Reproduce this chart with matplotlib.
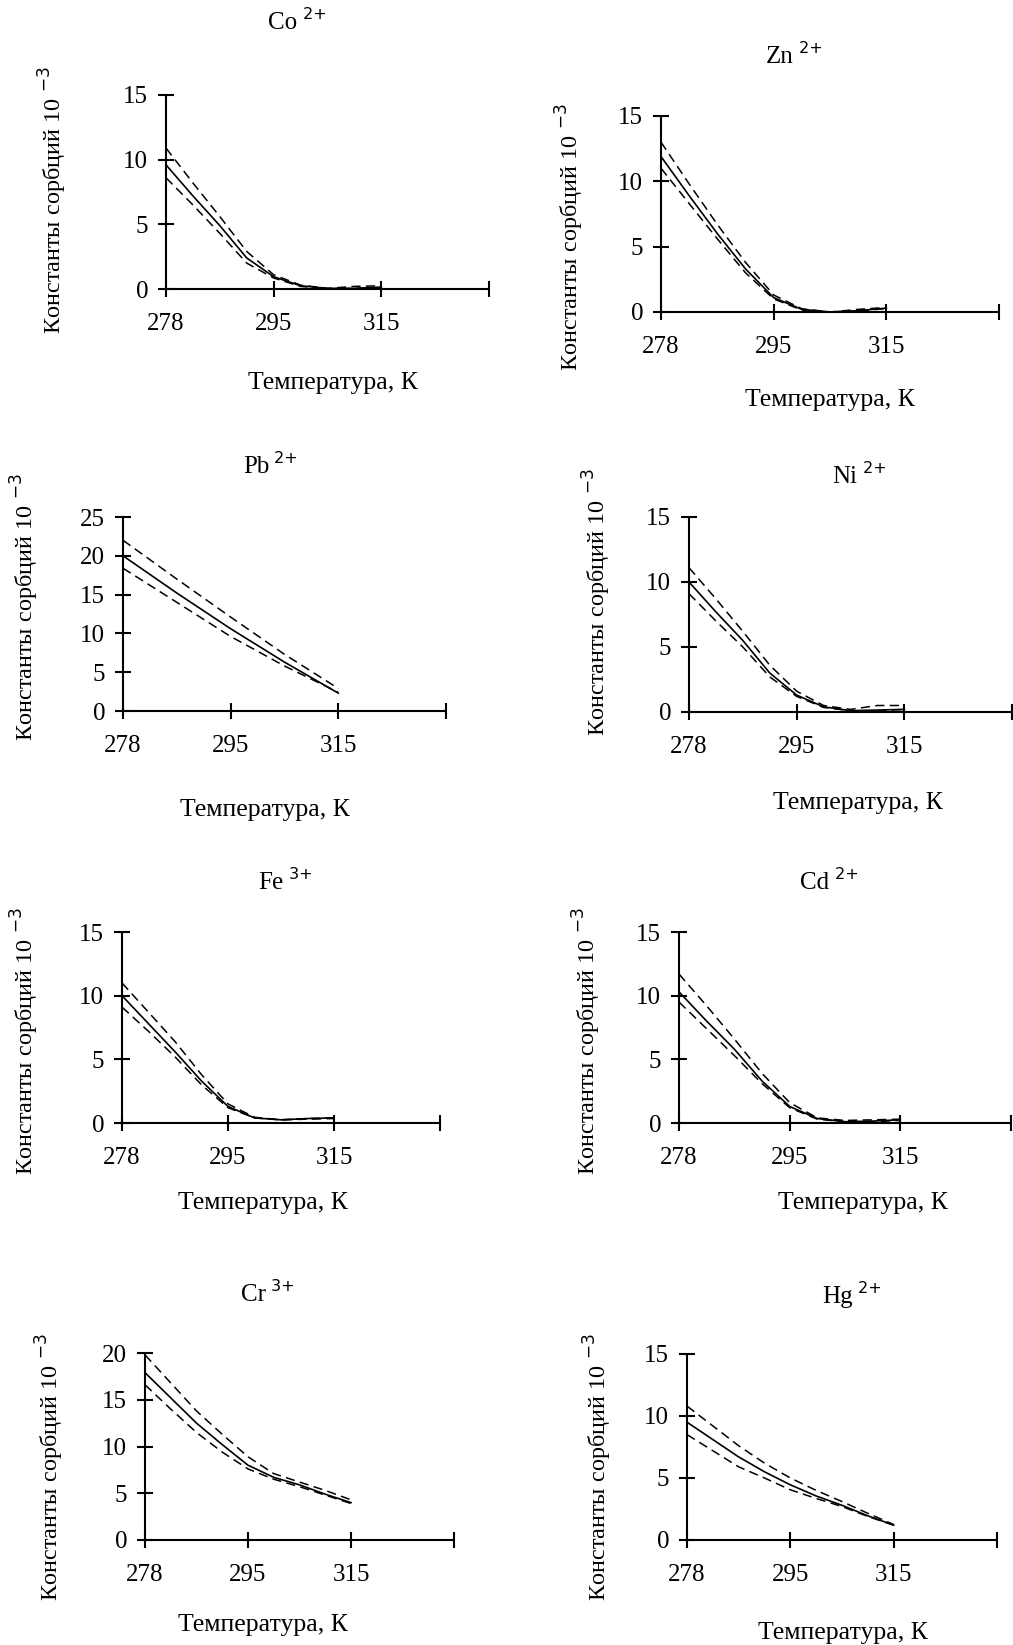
import matplotlib
matplotlib.use("Agg")
import matplotlib.pyplot as plt

plt.rcParams['font.family'] = ['Liberation Serif', 'DejaVu Serif']
plt.rcParams['mathtext.fontset'] = 'dejavusans'

W, H = 1013, 1645

# category positions (278 at 0, 295 at 1, 315 at 2, axis end at 3)
tick_labels = ['278', '295', '315', '']
x9 = [0, 0.25, 0.5, 0.75, 1.0, 1.25, 1.5, 1.75, 2.0]
x5 = [0, 0.5, 1.0, 1.5, 2.0]

co_mid = [9.6, 7.2, 4.9, 2.4, 0.95, 0.25, 0.05, 0.05, 0.15]
co_up = [10.9, 8.2, 5.6, 2.9, 1.1, 0.3, 0.05, 0.2, 0.25]
co_lo = [8.6, 6.5, 4.3, 2.0, 0.85, 0.2, 0.02, 0.05, 0.1]

zn_mid = [11.9, 8.9, 6.0, 3.3, 1.1, 0.2, 0.0, 0.1, 0.3]
zn_up = [13.0, 9.8, 6.7, 3.8, 1.3, 0.25, 0.0, 0.2, 0.35]
zn_lo = [11.0, 8.3, 5.6, 3.0, 1.0, 0.15, 0.0, 0.1, 0.25]

pb_mid = [20.0, 15.2, 10.6, 6.3, 2.3]
pb_up = [22.0, 17.0, 12.1, 7.3, 2.9]
pb_lo = [18.4, 14.0, 9.6, 5.8, 2.4]

ni_mid = [10.0, 7.7, 5.5, 3.0, 1.3, 0.4, 0.1, 0.15, 0.2]
ni_up = [11.1, 8.7, 6.2, 3.6, 1.6, 0.5, 0.2, 0.5, 0.5]
ni_lo = [9.1, 7.0, 5.0, 2.7, 1.2, 0.35, 0.1, 0.1, 0.2]

fe_mid = [10.0, 7.8, 5.6, 3.3, 1.3, 0.4, 0.25, 0.35, 0.4]
fe_up = [11.0, 8.7, 6.4, 3.8, 1.5, 0.45, 0.25, 0.35, 0.4]
fe_lo = [9.1, 7.2, 5.2, 3.0, 1.2, 0.4, 0.25, 0.3, 0.35]

cd_mid = [10.3, 8.0, 5.8, 3.3, 1.3, 0.35, 0.1, 0.15, 0.25]
cd_up = [11.7, 9.2, 6.6, 3.9, 1.6, 0.4, 0.2, 0.25, 0.3]
cd_lo = [9.5, 7.4, 5.3, 3.1, 1.2, 0.3, 0.1, 0.1, 0.2]

cr_mid = [17.9, 15.2, 12.5, 10.2, 8.0, 6.7, 5.9, 4.9, 4.0]
cr_up = [19.8, 16.8, 13.8, 11.3, 8.9, 7.1, 6.2, 5.3, 4.3]
cr_lo = [16.6, 14.0, 11.5, 9.4, 7.6, 6.5, 5.7, 4.8, 3.9]

hg_mid = [9.5, 8.1, 6.7, 5.5, 4.45, 3.55, 2.8, 1.95, 1.2]
hg_up = [10.8, 9.2, 7.6, 6.2, 5.0, 4.0, 3.1, 2.15, 1.25]
hg_lo = [8.5, 7.2, 5.9, 5.0, 4.05, 3.35, 2.7, 1.9, 1.2]

ions = ['Co', 'Zn', 'Pb', 'Ni', 'Fe', 'Cd', 'Cr', 'Hg']
charges = ['2+', '2+', '2+', '2+', '3+', '2+', '3+', '2+']
ymaxs = [15, 15, 25, 15, 15, 15, 20, 15]
xs = [x9, x9, x5, x9, x9, x9, x9, x9]
mids = [co_mid, zn_mid, pb_mid, ni_mid, fe_mid, cd_mid, cr_mid, hg_mid]
ups = [co_up, zn_up, pb_up, ni_up, fe_up, cd_up, cr_up, hg_up]
los = [co_lo, zn_lo, pb_lo, ni_lo, fe_lo, cd_lo, cr_lo, hg_lo]

ylabel_text = 'Константы сорбций 10 $^{-3}$'
xlabel_text = 'Температура, К'

# layout in pixels: (axis x0, axis x1, y of top tick, y of zero), title, ylabel, xlabel centres
boxes = [(166, 489, 95, 289), (661, 999, 116, 312),
         (123, 446, 517, 711), (689, 1012, 517, 712),
         (122, 440, 932, 1123), (679, 1011, 932, 1123),
         (145, 454, 1353, 1540), (687, 997, 1354, 1540)]
titles_xy = [(283, 23), (780, 57), (256, 467), (845, 477),
             (271, 883), (815, 883), (253, 1295), (838, 1297)]
ylab_xy = [(53, 200), (570, 237), (25, 607), (597, 602),
           (25, 1041), (587, 1041), (50, 1467), (598, 1467)]
xlab_xy = [(333, 383), (830, 400), (265, 810), (858, 803),
           (263, 1203), (863, 1203), (263, 1625), (843, 1633)]

fig = plt.figure(figsize=(W / 100, H / 100), dpi=100)

for i in range(8):
    x0, x1, yt, yb = boxes[i]
    ax = fig.add_axes([x0 / W, 1 - yb / H, (x1 - x0) / W, (yb - yt) / H])
    ax.plot(xs[i], mids[i], color='black', lw=1.2, solid_joinstyle='round')
    ax.plot(xs[i], ups[i], color='black', lw=1.1, dashes=(6, 3.5))
    ax.plot(xs[i], los[i], color='black', lw=1.1, dashes=(6, 3.5))
    ax.set_xlim(0, 3)
    ax.set_ylim(0, ymaxs[i])
    ax.set_xticks([0, 1, 2, 3])
    ax.set_xticklabels(tick_labels)
    ax.set_yticks(list(range(0, ymaxs[i] + 1, 5)))
    for s in ['top', 'right']:
        ax.spines[s].set_visible(False)
    for s in ['left', 'bottom']:
        ax.spines[s].set_linewidth(1.5)
        ax.spines[s].set_capstyle('butt')
    ax.tick_params(axis='y', direction='inout', length=11.5, width=1.5, pad=7, labelsize=18)
    ax.tick_params(axis='x', direction='inout', length=11, width=1.5, pad=12, labelsize=18)
    ax.patch.set_visible(False)
    for t in ax.get_xticklabels() + ax.get_yticklabels():
        t.set_clip_on(False)

    tx, ty = titles_xy[i]
    main = fig.text(tx / W, 1 - ty / H, ions[i], ha='center', va='center', fontsize=18)
    fig.text(0, 0, '').set_visible(False)
    ax.annotate(' ' + charges[i], xy=(1.0, 0.55), xycoords=main, ha='left', va='bottom',
                fontsize=11.5, family='DejaVu Sans', annotation_clip=False)
    lx, ly = ylab_xy[i]
    fig.text(lx / W, 1 - ly / H, ylabel_text, rotation=90, ha='center', va='center', fontsize=17.5)
    bx, by = xlab_xy[i]
    fig.text(bx / W, 1 - by / H, xlabel_text, ha='center', va='center', fontsize=18.5)

fig.savefig('out.png', dpi=100, facecolor='white')
